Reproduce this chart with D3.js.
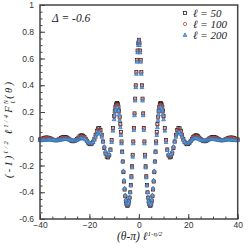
<!DOCTYPE html>
<html lang="en">
<head>
  <meta charset="UTF-8">
  <title>Scaled correlation function</title>
  <script src="https://d3js.org/d3.v7.min.js"></script>
  <style>
    body { margin: 0; background: #fff; }
    .tick text { font-family: "Liberation Sans", Arial, sans-serif; font-size: 8.5px; fill: #333; }
    .tick line { stroke: #444; }
    .domain { display: none; }
    .label { font-family: "Liberation Serif", "Times New Roman", serif; font-style: italic; fill: #222; }
  </style>
</head>
<body>
<div id="chart"></div>
<script>
  // scaled angle (theta - pi) * l^(1 - eta/2)
  const xs = [
    -40,-39.5,-39,-38.5,-38,-37.5,-37,-36.5,-36,-35.5,
    -35,-34.5,-34,-33.5,-33,-32.5,-32,-31.5,-31,-30.5,
    -30,-29.5,-29,-28.5,-28,-27.5,-27,-26.5,-26,-25.5,
    -25,-24.5,-24,-23.5,-23,-22.5,-22,-21.5,-21,-20.5,
    -20,-19.5,-19,-18.5,-18,-17.5,-17,-16.5,-16,-15.5,
    -15,-14.5,-14,-13.5,-13,-12.5,-12,-11.5,-11,-10.5,
    -10,-9.5,-9,-8.5,-8,-7.5,-7,-6.5,-6,-5.5,
    -5,-4.5,-4,-3.5,-3,-2.5,-2,-1.5,-1,-0.5,
    0,
    0.5,1,1.5,2,2.5,3,3.5,4,4.5,5,
    5.5,6,6.5,7,7.5,8,8.5,9,9.5,10,
    10.5,11,11.5,12,12.5,13,13.5,14,14.5,15,
    15.5,16,16.5,17,17.5,18,18.5,19,19.5,20,
    20.5,21,21.5,22,22.5,23,23.5,24,24.5,25,
    25.5,26,26.5,27,27.5,28,28.5,29,29.5,30,
    30.5,31,31.5,32,32.5,33,33.5,34,34.5,35,
    35.5,36,36.5,37,37.5,38,38.5,39,39.5,40
  ];

  const l50 = [
    -0.005,-0.002,0.001,0.005,0.008,0.009,0.009,0.007,0.004,0.0,
    -0.005,-0.009,-0.011,-0.011,-0.009,-0.005,0.0,0.006,0.011,0.014,
    0.014,0.012,0.008,0.002,-0.006,-0.013,-0.018,-0.019,-0.017,-0.011,
    -0.002,0.008,0.018,0.025,0.026,0.022,0.013,0.0,-0.015,-0.03,
    -0.04,-0.041,-0.036,-0.022,0.0,0.03,0.06,0.078,0.08,0.065,
    0.03,-0.02,-0.07,-0.11,-0.135,-0.14,-0.125,-0.08,-0.01,0.08,
    0.17,0.24,0.265,0.26,0.21,0.11,-0.02,-0.17,-0.32,-0.43,
    -0.49,-0.50,-0.47,-0.40,-0.28,-0.12,0.08,0.30,0.50,0.66,
    0.74,
    0.66,0.50,0.30,0.08,-0.12,-0.28,-0.40,-0.47,-0.50,-0.49,
    -0.43,-0.32,-0.17,-0.02,0.11,0.21,0.26,0.265,0.24,0.17,
    0.08,-0.01,-0.08,-0.125,-0.14,-0.135,-0.11,-0.07,-0.02,0.03,
    0.065,0.08,0.078,0.06,0.03,0.0,-0.022,-0.036,-0.041,-0.04,
    -0.03,-0.015,0.0,0.013,0.022,0.026,0.025,0.018,0.008,-0.002,
    -0.011,-0.017,-0.019,-0.018,-0.013,-0.006,0.002,0.008,0.012,0.014,
    0.014,0.011,0.006,0.0,-0.005,-0.009,-0.011,-0.011,-0.009,-0.005,
    0.0,0.004,0.007,0.009,0.009,0.008,0.005,0.001,-0.002,-0.005
  ];

  const l100 = [
    -0.005,-0.004,-0.002,0.001,0.003,0.004,0.004,0.003,0.001,-0.001,
    -0.004,-0.007,-0.009,-0.009,-0.008,-0.006,-0.002,0.002,0.005,0.007,
    0.007,0.006,0.004,0.0,-0.005,-0.01,-0.014,-0.015,-0.014,-0.01,
    -0.004,0.003,0.01,0.015,0.016,0.014,0.008,-0.002,-0.013,-0.025,
    -0.034,-0.036,-0.033,-0.022,-0.004,0.022,0.048,0.064,0.066,0.053,
    0.022,-0.02,-0.062,-0.10,-0.125,-0.132,-0.12,-0.08,-0.015,0.07,
    0.16,0.225,0.25,0.245,0.195,0.10,-0.03,-0.17,-0.315,-0.425,
    -0.485,-0.495,-0.47,-0.40,-0.285,-0.125,0.075,0.295,0.495,0.655,
    0.735,
    0.655,0.495,0.295,0.075,-0.125,-0.285,-0.40,-0.47,-0.495,-0.485,
    -0.425,-0.315,-0.17,-0.03,0.10,0.195,0.245,0.25,0.225,0.16,
    0.07,-0.015,-0.08,-0.12,-0.132,-0.125,-0.10,-0.062,-0.02,0.022,
    0.053,0.066,0.064,0.048,0.022,-0.004,-0.022,-0.033,-0.036,-0.034,
    -0.025,-0.013,-0.002,0.008,0.014,0.016,0.015,0.01,0.003,-0.004,
    -0.01,-0.014,-0.015,-0.014,-0.01,-0.005,0.0,0.004,0.006,0.007,
    0.007,0.005,0.002,-0.002,-0.006,-0.008,-0.009,-0.009,-0.007,-0.004,
    -0.001,0.001,0.003,0.004,0.004,0.003,0.001,-0.002,-0.004,-0.005
  ];

  const l200 = [
    -0.011,-0.011,-0.011,-0.01,-0.009,-0.008,-0.007,-0.006,-0.006,-0.007,
    -0.008,-0.01,-0.011,-0.012,-0.012,-0.011,-0.009,-0.007,-0.005,-0.003,
    -0.002,-0.002,-0.003,-0.005,-0.007,-0.01,-0.012,-0.013,-0.013,-0.011,
    -0.008,-0.004,0.0,0.004,0.005,0.004,0.0,-0.007,-0.015,-0.024,
    -0.031,-0.034,-0.032,-0.024,-0.008,0.014,0.036,0.05,0.052,0.04,
    0.014,-0.022,-0.058,-0.092,-0.115,-0.122,-0.115,-0.085,-0.025,0.06,
    0.145,0.21,0.235,0.23,0.18,0.085,-0.035,-0.17,-0.31,-0.42,
    -0.48,-0.49,-0.465,-0.40,-0.29,-0.135,0.065,0.285,0.485,0.645,
    0.73,
    0.645,0.485,0.285,0.065,-0.135,-0.29,-0.40,-0.465,-0.49,-0.48,
    -0.42,-0.31,-0.17,-0.035,0.085,0.18,0.23,0.235,0.21,0.145,
    0.06,-0.025,-0.085,-0.115,-0.122,-0.115,-0.092,-0.058,-0.022,0.014,
    0.04,0.052,0.05,0.036,0.014,-0.008,-0.024,-0.032,-0.034,-0.031,
    -0.024,-0.015,-0.007,0.0,0.004,0.005,0.004,0.0,-0.004,-0.008,
    -0.011,-0.013,-0.013,-0.012,-0.01,-0.007,-0.005,-0.003,-0.002,-0.002,
    -0.003,-0.005,-0.007,-0.009,-0.011,-0.012,-0.012,-0.011,-0.01,-0.008,
    -0.007,-0.006,-0.006,-0.007,-0.008,-0.009,-0.01,-0.011,-0.011,-0.011
  ];

  // extra samples in the central lobes, where the curves are steep
  const xsFine = [
    -9.75,-9.25,-8.75,-8.25,-7.75,-7.25,-6.75,-6.25,-5.75,-5.25,
    -4.75,-4.25,-3.75,-3.25,-2.75,-2.25,-1.75,-1.25,-0.75,-0.25,
    0.25,0.75,1.25,1.75,2.25,2.75,3.25,3.75,4.25,4.75,
    5.25,5.75,6.25,6.75,7.25,7.75,8.25,8.75,9.25,9.75
  ];
  const l50Fine = [
    0.21,0.256,0.267,0.24,0.165,0.05,-0.095,-0.25,-0.38,-0.465,
    -0.50,-0.49,-0.44,-0.345,-0.205,-0.02,0.19,0.40,0.59,0.715,
    0.715,0.59,0.40,0.19,-0.02,-0.205,-0.345,-0.44,-0.49,-0.50,
    -0.465,-0.38,-0.25,-0.095,0.05,0.165,0.24,0.267,0.256,0.21
  ];
  const l100Fine = [
    0.196,0.242,0.252,0.226,0.152,0.037,-0.10,-0.245,-0.375,-0.46,
    -0.495,-0.487,-0.44,-0.35,-0.21,-0.025,0.185,0.395,0.585,0.71,
    0.71,0.585,0.395,0.185,-0.025,-0.21,-0.35,-0.44,-0.487,-0.495,
    -0.46,-0.375,-0.245,-0.10,0.037,0.152,0.226,0.252,0.242,0.196
  ];
  const l200Fine = [
    0.18,0.226,0.237,0.21,0.137,0.027,-0.10,-0.24,-0.37,-0.455,
    -0.49,-0.482,-0.438,-0.35,-0.215,-0.035,0.175,0.385,0.575,0.70,
    0.70,0.575,0.385,0.175,-0.035,-0.215,-0.35,-0.438,-0.482,-0.49,
    -0.455,-0.37,-0.24,-0.10,0.027,0.137,0.21,0.237,0.226,0.18
  ];

  const legendLabels = ["50", "100", "200"];
  const xTicks = [-40, -20, 0, 20, 40];
  const yTicks = [-0.6, -0.4, -0.2, 0, 0.2, 0.4, 0.6, 0.8, 1];

  const W = 249, H = 249;
  const mLeft = 40, mRight = 237.7, mTop = 5, mBottom = 219;

  const svg = d3.select("#chart").append("svg")
    .attr("width", W).attr("height", H);

  const x = d3.scaleLinear().domain([-40, 40]).range([mLeft, mRight]);
  const y = d3.scaleLinear().domain([-0.6, 1]).range([mBottom, mTop]);

  // minor ticks
  svg.append("g").attr("transform", `translate(0,${mBottom})`)
    .call(d3.axisBottom(x).tickValues(d3.range(-40, 41, 5)).tickSizeInner(-2.5).tickSizeOuter(0).tickFormat(""));
  svg.append("g").attr("transform", `translate(${mLeft},0)`)
    .call(d3.axisLeft(y).tickValues(d3.range(-0.6, 1.001, 0.05)).tickSizeInner(-2.5).tickSizeOuter(0).tickFormat(""));

  // major ticks + labels
  svg.append("g").attr("transform", `translate(0,${mBottom})`)
    .call(d3.axisBottom(x).tickValues(xTicks).tickSizeInner(-5).tickSizeOuter(0).tickPadding(3).tickFormat(d3.format("d")));
  svg.append("g").attr("transform", `translate(${mLeft},0)`)
    .call(d3.axisLeft(y).tickValues(yTicks).tickSizeInner(-5).tickSizeOuter(0).tickPadding(6).tickFormat(d => String(+d.toFixed(1))));

  const series = [
    { ys: l50, fine: l50Fine, type: "square" },
    { ys: l100, fine: l100Fine, type: "circle" },
    { ys: l200, fine: l200Fine, type: "triangle" }
  ];

  function drawMarker(g, type, cx, cy) {
    if (type === "square") {
      g.append("rect").attr("x", cx - 1.5).attr("y", cy - 1.5).attr("width", 3).attr("height", 3)
        .attr("fill", "none").attr("stroke", "#222").attr("stroke-width", 0.8);
    } else if (type === "circle") {
      g.append("circle").attr("cx", cx).attr("cy", cy).attr("r", 1.6)
        .attr("fill", "none").attr("stroke", "#c9463d").attr("stroke-width", 0.8);
    } else {
      g.append("path").attr("d", `M${cx},${cy - 2}L${cx + 1.9},${cy + 1.4}L${cx - 1.9},${cy + 1.4}Z`)
        .attr("fill", "#6fa8dc").attr("stroke", "#2f6fb0").attr("stroke-width", 0.7);
    }
  }

  const plot = svg.append("g");
  series.forEach(s => {
    const g = plot.append("g");
    xs.forEach((xv, i) => drawMarker(g, s.type, x(xv), y(s.ys[i])));
    xsFine.forEach((xv, i) => drawMarker(g, s.type, x(xv), y(s.fine[i])));
  });

  // frame
  svg.append("rect").attr("x", mLeft).attr("y", mTop).attr("width", mRight - mLeft).attr("height", mBottom - mTop)
    .attr("fill", "none").attr("stroke", "#444").attr("stroke-width", 1.5);

  // legend
  const leg = svg.append("g");
  series.forEach((s, i) => {
    const ly = 13 + i * 11;
    drawMarker(leg, s.type, 185, ly);
    leg.append("text").attr("class", "label").attr("x", 193).attr("y", ly + 4)
      .attr("font-size", 11).text("ℓ = " + legendLabels[i]);
  });

  // annotation
  svg.append("text").attr("class", "label").attr("x", 52).attr("y", 22)
    .attr("font-size", 11.5).text("Δ = -0.6");

  // x title
  const xt = svg.append("text").attr("class", "label").attr("x", 117).attr("y", 240).attr("font-size", 11.5);
  xt.append("tspan").text("(θ-π) ℓ");
  xt.append("tspan").attr("font-size", 7).attr("dy", -4).text("1-η/2");

  // y title
  const yt = svg.append("text").attr("class", "label").attr("font-size", 10.5)
    .attr("transform", "translate(12,178) rotate(-90)").attr("letter-spacing", 2.2);
  yt.append("tspan").text("(-1)");
  yt.append("tspan").attr("font-size", 6.5).attr("dy", -4).text("ℓ/2");
  yt.append("tspan").attr("dy", 4).text(" ℓ");
  yt.append("tspan").attr("font-size", 6.5).attr("dy", -4).text("1/4");
  yt.append("tspan").attr("dy", 4).text("F");
  yt.append("tspan").attr("font-size", 6.5).attr("dy", -4).text("N");
  yt.append("tspan").attr("font-size", 6.5).attr("dx", -6).attr("dy", 6.5).text("ℓ");
  yt.append("tspan").attr("dy", -2.5).text("(θ)");
</script>
</body>
</html>
